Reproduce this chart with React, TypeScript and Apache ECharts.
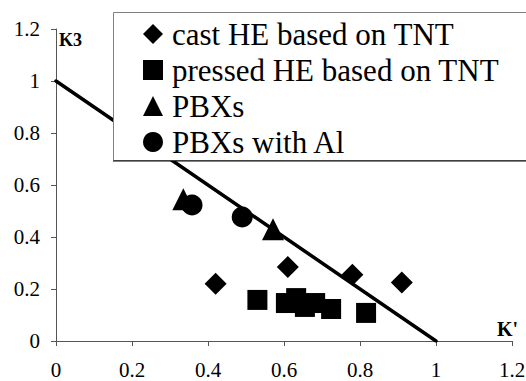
import React, { useEffect, useRef } from "react";
import * as echarts from "echarts";

const seriesNames = [
  "cast HE based on TNT",
  "pressed HE based on TNT",
  "PBXs",
  "PBXs with Al",
];
const castHE: [number, number][] = [
  [0.42, 0.22],
  [0.61, 0.285],
  [0.78, 0.255],
  [0.91, 0.225],
];
const pressedHE: [number, number][] = [
  [0.53, 0.158],
  [0.605, 0.146],
  [0.632, 0.165],
  [0.655, 0.131],
  [0.682, 0.146],
  [0.724, 0.123],
  [0.816, 0.108],
];
const pbxs: [number, number][] = [
  [0.335, 0.545],
  [0.571, 0.43],
];
const pbxsAl: [number, number][] = [
  [0.358, 0.523],
  [0.49, 0.477],
];
const fitLine: [number, number][] = [
  [0, 1],
  [1, 0],
];
const xTicks = { min: 0, max: 1.2, interval: 0.2 };
const yTicks = { min: 0, max: 1.2, interval: 0.2 };

const FONT = "Liberation Serif";

export default function App() {
  const ref = useRef<HTMLDivElement>(null);
  useEffect(() => {
    if (!ref.current) return;
    const chart = echarts.init(ref.current, undefined, { renderer: "svg" });
    const label = {
      color: "#000",
      fontFamily: FONT,
      fontSize: 21,
    };
    const mk = () => ({ color: "#000", opacity: 1 });
    chart.setOption({
      animation: false,
      grid: {
        left: 56,
        right: 14,
        top: 29,
        bottom: 40,
        containLabel: false,
        outerBoundsMode: "none",
      },
      xAxis: {
        type: "value",
        ...xTicks,
        axisLine: { show: true, lineStyle: { color: "#555", width: 1 } },
        axisTick: { show: true, length: 5, lineStyle: { color: "#555" } },
        splitLine: { show: false },
        axisLabel: { ...label, margin: 19, lineHeight: 20 },
        name: "K'",
        nameLocation: "end",
        nameGap: 6,
        nameTextStyle: {
          fontFamily: FONT,
          fontWeight: "bold",
          fontSize: 20,
          color: "#000",
          align: "right",
          verticalAlign: "bottom",
          padding: [0, 0, 2, 0],
        },
      },
      yAxis: {
        type: "value",
        ...yTicks,
        axisLine: { show: true, lineStyle: { color: "#555", width: 1 } },
        axisTick: { show: true, length: 5, lineStyle: { color: "#555" } },
        splitLine: { show: false },
        axisLabel: { ...label, margin: 16 },
        name: "K3",
        nameLocation: "end",
        nameGap: -2,
        nameTextStyle: {
          fontFamily: FONT,
          fontWeight: "bold",
          fontSize: 18,
          color: "#000",
          align: "left",
          verticalAlign: "top",
          padding: [0, 0, 0, 3],
        },
      },
      legend: {
        orient: "vertical",
        left: 143,
        top: 16,
        z: 20,
        itemWidth: 20,
        itemHeight: 20,
        itemGap: 0,
        padding: 0,
        selectedMode: false,
        data: [
          { name: seriesNames[0], icon: "diamond", itemStyle: mk() },
          { name: seriesNames[1], icon: "rect", itemStyle: mk() },
          { name: seriesNames[2], icon: "triangle", itemStyle: mk() },
          { name: seriesNames[3], icon: "circle", itemStyle: mk() },
        ],
        textStyle: {
          fontFamily: FONT,
          fontSize: 31,
          lineHeight: 36,
          color: "#000",
          padding: [0, 0, 0, 4],
        },
      },
      graphic: [
        {
          type: "rect",
          z: 10,
          shape: { x: 113.5, y: 12.5, width: 420, height: 148 },
          style: { fill: "#fff", stroke: "#808080", lineWidth: 1 },
        },
        {
          type: "line",
          z: 11,
          shape: { x1: 113, y1: 161, x2: 526, y2: 161 },
          style: { stroke: "#000", lineWidth: 1.2 },
        },
      ],
      series: [
        {
          type: "line",
          data: fitLine,
          symbol: "none",
          lineStyle: { color: "#000", width: 3.5, cap: "round" },
          z: 1,
          silent: true,
        },
        {
          name: seriesNames[0],
          type: "scatter",
          data: castHE,
          symbol: "diamond",
          symbolSize: 22,
          itemStyle: mk(),
          z: 3,
        },
        {
          name: seriesNames[1],
          type: "scatter",
          data: pressedHE,
          symbol: "rect",
          symbolSize: 20,
          itemStyle: mk(),
          z: 3,
        },
        {
          name: seriesNames[2],
          type: "scatter",
          data: pbxs,
          symbol: "triangle",
          symbolSize: 22,
          itemStyle: mk(),
          z: 3,
        },
        {
          name: seriesNames[3],
          type: "scatter",
          data: pbxsAl,
          symbol: "circle",
          symbolSize: 21,
          itemStyle: mk(),
          z: 3,
        },
      ],
    });
    return () => chart.dispose();
  }, []);
  return (
    <div
      ref={ref}
      style={{ width: 526, height: 381, position: "absolute", left: 0, top: 0 }}
    />
  );
}
